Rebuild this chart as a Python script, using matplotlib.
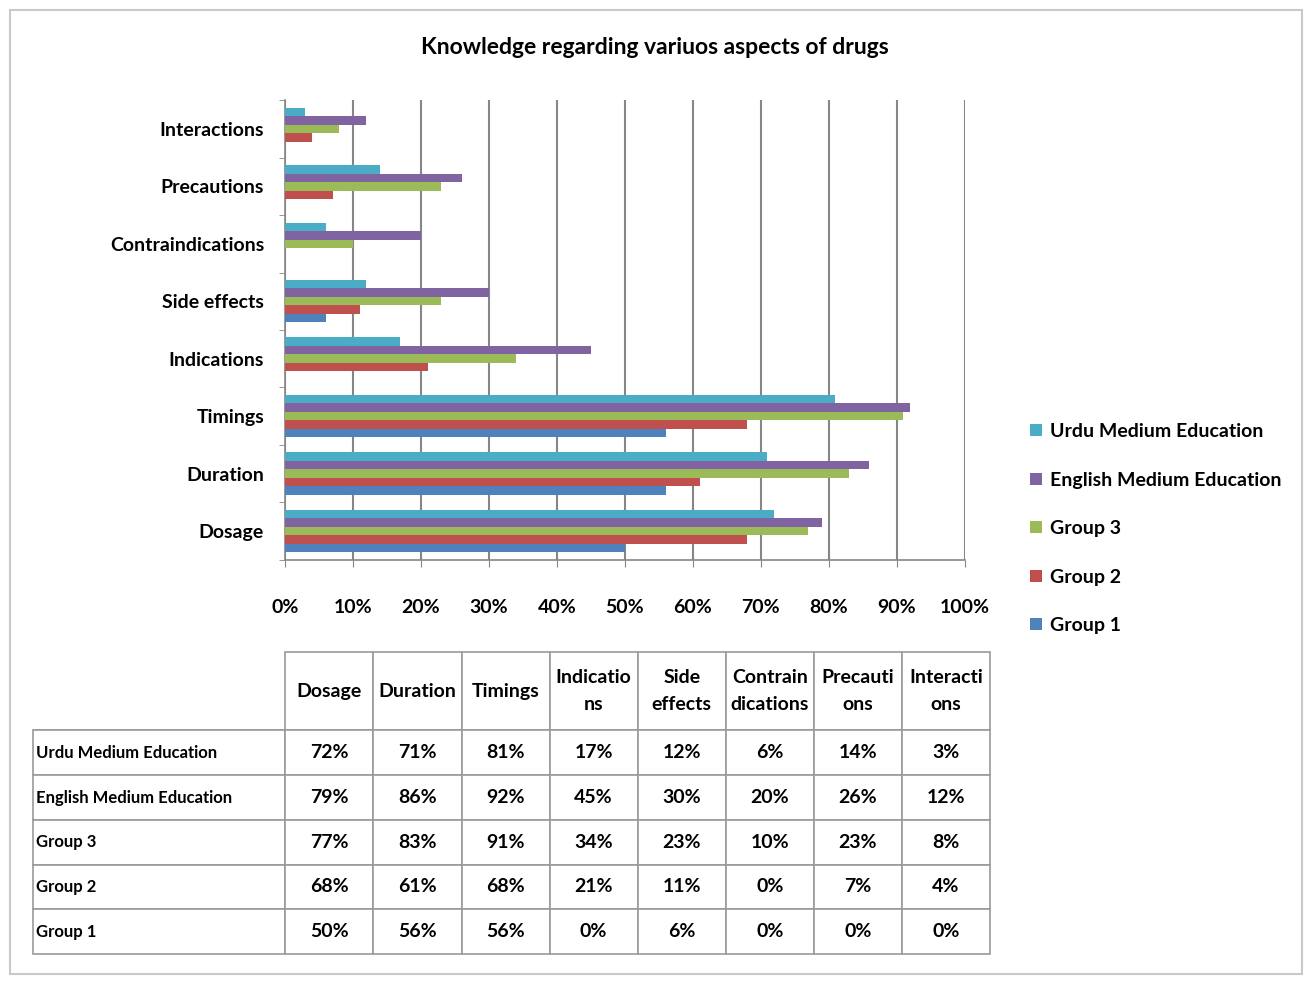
import matplotlib.pyplot as plt
import numpy as np
from matplotlib.patches import Rectangle, Patch

plt.rcParams['font.family'] = ['Lato', 'DejaVu Sans']
plt.rcParams['font.weight'] = 'bold'

aspects = ['Dosage', 'Duration', 'Timings', 'Indications', 'Side effects',
           'Contraindications', 'Precautions', 'Interactions']
headers = ['Dosage', 'Duration', 'Timings', 'Indicatio\nns', 'Side\neffects',
           'Contrain\ndications', 'Precauti\nons', 'Interacti\nons']

urdu = [72, 71, 81, 17, 12, 6, 14, 3]
english = [79, 86, 92, 45, 30, 20, 26, 12]
group3 = [77, 83, 91, 34, 23, 10, 23, 8]
group2 = [68, 61, 68, 21, 11, 0, 7, 4]
group1 = [50, 56, 56, 0, 6, 0, 0, 0]

series = ['Urdu Medium Education', 'English Medium Education', 'Group 3', 'Group 2', 'Group 1']
values = [urdu, english, group3, group2, group1]
colors = ['#4BACC6', '#8064A2', '#9BBB59', '#C0504D', '#4F81BD']

fig = plt.figure(figsize=(13.07, 9.82), dpi=100)
fig.patch.set_facecolor('white')
fig.patches.append(Rectangle((0.008, 0.008), 0.988, 0.982, transform=fig.transFigure,
                             fill=False, edgecolor='#c8c8c8', lw=1.5))

ax = fig.add_axes([0.218, 0.430, 0.520, 0.468])
y = np.arange(len(aspects))
h = 0.148
offsets = [2, 1, 0, -1, -2]
for name, vals, c, off in zip(series, values, colors, offsets):
    ax.barh(y + off * h, vals, height=h, color=c, zorder=3, label=name)

ax.set_xlim(0, 100)
ax.set_ylim(-0.5, 7.5)
ax.set_xticks(np.arange(0, 101, 10))
ax.set_xticklabels([f'{v}%' for v in range(0, 101, 10)], fontsize=14, fontweight='bold')
ax.set_yticks(y)
ax.set_yticklabels(aspects, fontsize=14, fontweight='bold')
ax.set_yticks(np.arange(-0.5, 8, 1), minor=True)
ax.tick_params(axis='y', which='major', length=0, pad=15)
ax.tick_params(axis='y', which='minor', length=4, color='#868686')
ax.tick_params(axis='x', length=5, color='#868686', pad=23)
ax.grid(axis='x', color='#868686', lw=1.5, zorder=0)
for s in ['top', 'right']:
    ax.spines[s].set_visible(False)
for s in ['left', 'bottom']:
    ax.spines[s].set_color('#868686')
    ax.spines[s].set_linewidth(1.2)

fig.text(0.501, 0.952, 'Knowledge regarding variuos aspects of drugs', ha='center', va='center',
         fontsize=16.5, fontweight='bold')

handles = [Patch(facecolor=c) for c in colors]
fig.legend(handles, series, loc='upper left', bbox_to_anchor=(0.775, 0.587), frameon=False,
           prop={'size': 14, 'weight': 'bold'}, handlelength=0.6, handleheight=0.6,
           handletextpad=0.4, labelspacing=1.62)

# data table
tax = fig.add_axes([0.0253, 0.0285, 0.7322, 0.3075])
tax.axis('off')
cell_text = [[''] + headers]
for name, vals in zip(series, values):
    cell_text.append([name] + [f'{v}%' for v in vals])
tbl = tax.table(cellText=cell_text, bbox=[0, 0, 1, 1], cellLoc='center')
tbl.auto_set_font_size(False)
widths = [252] + [88] * 8
for (r, c), cell in tbl.get_celld().items():
    cell.set_width(widths[c])
    cell.set_height(78 if r == 0 else 44.5)
    cell.set_edgecolor('#9a9a9a')
    cell.set_linewidth(1.2)
    txt = cell.get_text()
    txt.set_fontweight('bold')
    if c == 0:
        txt.set_fontsize(12)
        cell.set_text_props(ha='left')
        cell.PAD = 0.01
    else:
        txt.set_fontsize(14)
    if r == 0:
        txt.set_linespacing(1.75)
    if r == 0 and c == 0:
        cell.visible_edges = 'B'

fig.savefig('out.png', dpi=100)
